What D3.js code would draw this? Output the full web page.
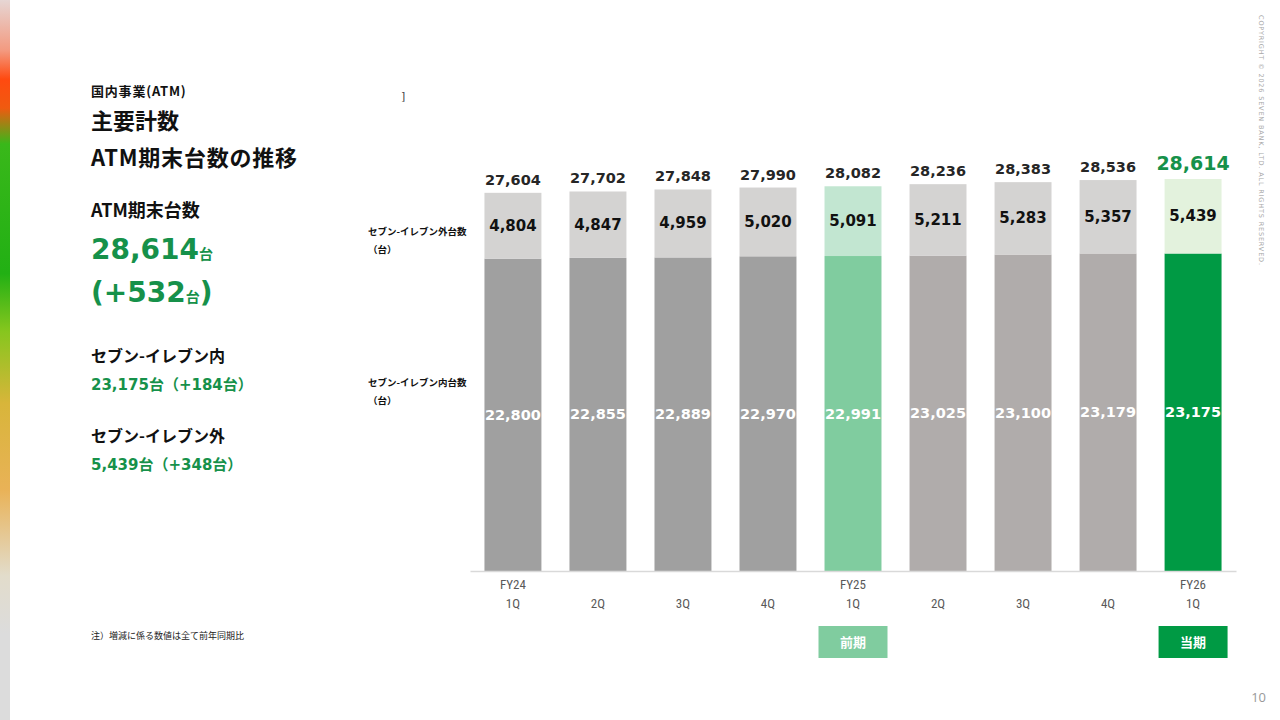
<!DOCTYPE html>
<html>
<head>
<meta charset="utf-8">
<script src="https://cdn.jsdelivr.net/npm/d3@7"></script>
<style>
  html, body { margin: 0; padding: 0; background: #fff; }
  svg { display: block; }
  .jp { font-family: "Noto Sans CJK JP", "Noto Sans", sans-serif; font-weight: 700; }
  .num { font-family: "DejaVu Sans", "Noto Sans CJK JP", sans-serif; font-weight: 700; }
</style>
</head>
<body>
<svg id="chart" width="1280" height="720"></svg>
<script>
// quarters on the x axis (first line = fiscal year, second = quarter)
var years = ['FY24', '', '', '', 'FY25', '', '', '', 'FY26'];
var quarters = ['1Q', '2Q', '3Q', '4Q', '1Q', '2Q', '3Q', '4Q', '1Q'];

// ATMs inside / outside 7-Eleven stores (units)
var inside = [22800, 22855, 22889, 22970, 22991, 23025, 23100, 23179, 23175];
var outside = [4804, 4847, 4959, 5020, 5091, 5211, 5283, 5357, 5439];

var seriesKeys = ['inside', 'outside'];
var seriesNames = ['セブン-イレブン内台数', 'セブン-イレブン外台数'];

var svg = d3.select('#chart');
var fmt = d3.format(',');

var rows = quarters.map(function(q, i) {
  return { i: i, inside: inside[i], outside: outside[i] };
});
var stacked = d3.stack().keys(seriesKeys)(rows);

var last = quarters.length - 1,
    prior = 4;
var baseY = 571;

var x = d3.scaleBand()
    .domain(d3.range(quarters.length))
    .range([470, 1236])
    .paddingInner(0.33)
    .paddingOuter(0.17);

var y = d3.scaleLinear()
    .domain([0, 30000])
    .range([baseY, baseY - 411]);

// which period a bar belongs to: prior (FY25 1Q), current (FY26 1Q) or plain
function period(i) {
  if (i === last) return 'current';
  if (i === prior) return 'prior';
  return i < prior ? 'old' : 'plain';
}
var fills = {
  old:     { inside: '#a0a0a0', outside: '#d4d3d2' },
  plain:   { inside: '#b0acab', outside: '#d4d3d2' },
  prior:   { inside: '#80cc9f', outside: '#c2e6d1' },
  current: { inside: '#009a44', outside: '#e3f2dd' }
};

// left colour strip
var defs = svg.append('defs');
var grad = defs.append('linearGradient')
    .attr('id', 'strip').attr('x1', 0).attr('y1', 0).attr('x2', 0).attr('y2', 1);
[[0, '#e6d6d4'], [0.07, '#f39a80'], [0.11, '#ff4a10'], [0.15, '#f05a10'],
 [0.2, '#39b81a'], [0.38, '#22b014'], [0.46, '#86c61e'], [0.56, '#d8b53a'],
 [0.68, '#e9b257'], [0.8, '#e2dccb'], [0.88, '#dcdcdc'], [1, '#dcdcdc']]
  .forEach(function(s) {
    grad.append('stop').attr('offset', s[0]).attr('stop-color', s[1]);
  });
svg.append('rect')
    .attr('x', 0).attr('y', 0).attr('width', 10).attr('height', 720)
    .attr('fill', 'url(#strip)');

// left-hand headings
var left = svg.append('g').attr('class', 'jp').attr('fill', '#111');
left.append('text').attr('x', 91).attr('y', 96).attr('font-size', 13)
    .attr('letter-spacing', 0.8).text('国内事業(ATM)');
left.append('text').attr('x', 91).attr('y', 129).attr('font-size', 22).text('主要計数');
left.append('text').attr('x', 91).attr('y', 166).attr('font-size', 22)
    .attr('letter-spacing', 0.8).text('ATM期末台数の推移');
left.append('text').attr('x', 91).attr('y', 217).attr('font-size', 18).text('ATM期末台数');

var green = '#16914a';
var total = inside[last] + outside[last],
    totalPrior = inside[prior] + outside[prior];

var big = svg.append('text').attr('class', 'num').attr('fill', green)
    .attr('x', 91).attr('y', 259).attr('font-size', 28);
big.append('tspan').text(fmt(total));
big.append('tspan').attr('font-size', 14).text('台');
var diff = svg.append('text').attr('class', 'num').attr('fill', green)
    .attr('x', 91).attr('y', 302).attr('font-size', 28);
diff.append('tspan').text('(+' + (total - totalPrior));
diff.append('tspan').attr('font-size', 14).text('台');
diff.append('tspan').text(')');

left.append('text').attr('x', 91).attr('y', 362).attr('font-size', 16).text('セブン-イレブン内');
svg.append('text').attr('class', 'num').attr('fill', green)
    .attr('x', 91).attr('y', 390).attr('font-size', 15)
    .text(fmt(inside[last]) + '台（+' + (inside[last] - inside[prior]) + '台）');
left.append('text').attr('x', 91).attr('y', 442).attr('font-size', 16).text('セブン-イレブン外');
svg.append('text').attr('class', 'num').attr('fill', green)
    .attr('x', 91).attr('y', 470).attr('font-size', 15)
    .text(fmt(outside[last]) + '台（+' + (outside[last] - outside[prior]) + '台）');

svg.append('text')
    .attr('x', 91).attr('y', 639)
    .attr('font-family', '"Noto Sans CJK JP", sans-serif')
    .attr('font-size', 9).attr('fill', '#222')
    .text('注）増減に係る数値は全て前年同期比');

svg.append('text')
    .attr('x', 401).attr('y', 100)
    .attr('font-family', '"DejaVu Sans", sans-serif')
    .attr('font-size', 11).attr('fill', '#444')
    .text(']');

// series labels on the left of the bars
var legendY = [390, 239];
seriesNames.forEach(function(name, k) {
  var t = svg.append('text').attr('class', 'jp')
      .attr('font-size', 9.5).attr('fill', '#111')
      .attr('x', 368).attr('y', legendY[k] - 4);
  t.append('tspan').text(name);
  t.append('tspan').attr('x', 368).attr('dy', 18).text('（台）');
});

// bars
var layers = svg.append('g').selectAll('g')
  .data(stacked)
  .join('g');

layers.selectAll('rect')
  .data(function(s) { return s.map(function(d) { return { key: s.key, d: d }; }); })
  .join('rect')
    .attr('x', function(o) { return x(o.d.data.i); })
    .attr('y', function(o) { return y(o.d[1]); })
    .attr('width', x.bandwidth())
    .attr('height', function(o) { return y(o.d[0]) - y(o.d[1]); })
    .attr('fill', function(o) { return fills[period(o.d.data.i)][o.key]; });

// segment labels
layers.selectAll('text')
  .data(function(s) { return s.map(function(d) { return { key: s.key, d: d }; }); })
  .join('text')
    .attr('class', 'num')
    .attr('text-anchor', 'middle')
    .attr('font-size', function(o) { return o.key === 'inside' ? 14.5 : 15; })
    .attr('x', function(o) { return x(o.d.data.i) + x.bandwidth() / 2; })
    .attr('y', function(o) { return (y(o.d[0]) + y(o.d[1])) / 2 + 5; })
    .attr('fill', function(o) { return o.key === 'inside' ? '#fff' : '#111'; })
    .text(function(o) { return fmt(o.d.data[o.key]); });

// totals above bars
svg.append('g').selectAll('text')
  .data(stacked[1])
  .join('text')
    .attr('class', 'num')
    .attr('text-anchor', 'middle')
    .attr('x', function(d) { return x(d.data.i) + x.bandwidth() / 2; })
    .attr('y', function(d) { return y(d[1]) - (d.data.i === last ? 9 : 8); })
    .attr('font-size', function(d) { return d.data.i === last ? 19 : 14.5; })
    .attr('fill', function(d) { return d.data.i === last ? green : '#262626'; })
    .text(function(d) { return fmt(d[1]); });

// x axis
var axis = svg.append('g')
    .attr('transform', 'translate(0,' + baseY + ')')
    .call(d3.axisBottom(x).tickSize(0).tickSizeOuter(0).tickFormat(''));
axis.select('.domain').attr('stroke', '#d9d9d9').attr('stroke-width', 1.5);
axis.selectAll('.tick text').remove();
axis.selectAll('.tick').each(function(i) {
  var t = d3.select(this).append('text')
      .attr('text-anchor', 'middle')
      .attr('font-family', '"Liberation Sans Narrow", "Roboto Condensed", "Open Sans", sans-serif')
      .attr('font-size', 13).attr('fill', '#595959');
  if (years[i]) t.append('tspan').attr('x', 0).attr('y', 18).text(years[i]);
  t.append('tspan').attr('x', 0).attr('y', 37).text(quarters[i]);
});

// prior / current period badges
var badges = [{ i: prior, label: '前期' }, { i: last, label: '当期' }];
var bg = svg.append('g').selectAll('g')
  .data(badges)
  .join('g')
    .attr('transform', function(b) {
      return 'translate(' + (x(b.i) + x.bandwidth() / 2) + ',642)';
    });
bg.append('rect')
    .attr('x', -34.5).attr('y', -16).attr('width', 69).attr('height', 32)
    .attr('fill', function(b) { return fills[period(b.i)].inside; });
bg.append('text')
    .attr('class', 'jp')
    .attr('text-anchor', 'middle').attr('y', 5)
    .attr('font-size', 13).attr('fill', '#fff')
    .text(function(b) { return b.label; });

// copyright & page number
svg.append('text')
    .attr('transform', 'translate(1259,15) rotate(90)')
    .attr('font-family', '"DejaVu Sans", sans-serif')
    .attr('font-size', 6.5).attr('fill', '#a8a8a8')
    .attr('textLength', 250).attr('lengthAdjust', 'spacing')
    .text('COPYRIGHT © 2026 SEVEN BANK, LTD. ALL RIGHTS RESERVED.');

svg.append('text')
    .attr('x', 1266).attr('y', 702).attr('text-anchor', 'end')
    .attr('font-family', '"Open Sans", sans-serif')
    .attr('font-size', 13).attr('fill', '#999')
    .text('10');
</script>
</body>
</html>
